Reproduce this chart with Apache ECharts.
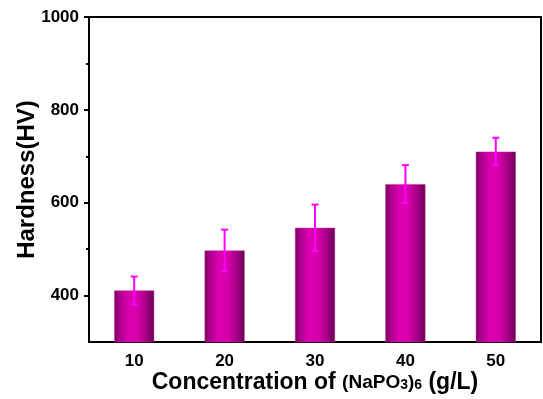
<!DOCTYPE html>
<html>
<head>
<meta charset="utf-8">
<script src="https://cdn.jsdelivr.net/npm/echarts@6/dist/echarts.min.js"></script>
<style>
  html, body { margin: 0; padding: 0; background: #fff; }
  #chart { width: 543px; height: 399px; }
</style>
</head>
<body>
<div id="chart"></div>
<script>
// data
const categories = ['10', '20', '30', '40', '50']
const hardness = [411, 497, 546, 640, 710]
const errors = [30, 45, 50, 41, 30]
const majorTicks = [400, 600, 800, 1000]
const minorTicks = [500, 700, 900]

const font = '"Liberation Sans", Arial, sans-serif'

const chart = echarts.init(document.getElementById('chart'))

const barColor = new echarts.graphic.LinearGradient(0, 0, 1, 0, [
  { offset: 0, color: '#76005c' },
  { offset: 0.12, color: '#a8008a' },
  { offset: 0.35, color: '#dc00b0' },
  { offset: 0.6, color: '#d400a8' },
  { offset: 0.85, color: '#98007c' },
  { offset: 1, color: '#66004e' }
])

const errData = hardness.map((v, i) => [i, v - errors[i], v + errors[i]])

chart.setOption({
  animation: false,
  backgroundColor: '#fff',
  grid: {
    left: 89, right: 2, top: 17, bottom: 57,
    outerBoundsMode: 'none',
    show: true, borderColor: '#000', borderWidth: 2, backgroundColor: 'transparent'
  },
  xAxis: [
    {
      type: 'category',
      data: categories,
      name: '{a|Concentration of }{b|(NaPO}{s|3}{b|)}{s|6}{a| (g/L)}',
      nameLocation: 'middle',
      nameGap: 29,
      nameMoveOverlap: false,
      nameTextStyle: {
        rich: {
          a: { fontFamily: font, fontWeight: 'bold', fontSize: 23, color: '#000' },
          b: { fontFamily: font, fontWeight: 'bold', fontSize: 19, color: '#000' },
          s: { fontFamily: font, fontWeight: 'bold', fontSize: 14, color: '#000', padding: [6, 0, 0, 0] }
        }
      },
      axisLine: { lineStyle: { color: '#000', width: 2 } },
      axisTick: { alignWithLabel: true, length: 5, lineStyle: { color: '#000', width: 2 } },
      axisLabel: { fontFamily: font, fontWeight: 'bold', fontSize: 17, color: '#000', margin: 11 },
      splitLine: { show: false }
    },
    {
      type: 'category',
      data: categories,
      position: 'bottom',
      axisLine: { show: false },
      axisTick: { length: 3, lineStyle: { color: '#000', width: 2 } },
      axisLabel: { show: false },
      splitLine: { show: false }
    }
  ],
  yAxis: [
    {
      type: 'value',
      min: 300,
      max: 1000,
      interval: 100,
      name: 'Hardness(HV)',
      nameLocation: 'middle',
      nameGap: 50,
      nameMoveOverlap: false,
      nameTextStyle: { fontFamily: font, fontWeight: 'bold', fontSize: 24, color: '#000' },
      axisLine: { show: true, lineStyle: { color: '#000', width: 2 } },
      axisTick: { show: true, customValues: majorTicks, length: 5, lineStyle: { color: '#000', width: 2 } },
      axisLabel: {
        customValues: majorTicks,
        formatter: (v) => String(v),
        fontFamily: font, fontWeight: 'bold', fontSize: 17, color: '#000', margin: 10
      },
      splitLine: { show: false }
    },
    {
      type: 'value',
      position: 'left',
      min: 300,
      max: 1000,
      interval: 100,
      axisLine: { show: false },
      axisTick: { show: true, customValues: minorTicks, length: 3, lineStyle: { color: '#000', width: 2 } },
      axisLabel: { show: false },
      splitLine: { show: false }
    }
  ],
  series: [
    {
      type: 'bar',
      data: hardness,
      barWidth: 40,
      itemStyle: { color: barColor, borderColor: '#c0309a', borderWidth: 0.5 }
    },
    {
      type: 'custom',
      data: errData,
      z: 10,
      renderItem: (params, api) => {
        const x = api.value(0)
        const lo = api.coord([x, api.value(1)])
        const hi = api.coord([x, api.value(2)])
        const cap = 3.5
        const style = { stroke: '#ff00ff', lineWidth: 2 }
        return {
          type: 'group',
          children: [
            { type: 'line', shape: { x1: hi[0], y1: hi[1], x2: lo[0], y2: lo[1] }, style },
            { type: 'line', shape: { x1: hi[0] - cap, y1: hi[1], x2: hi[0] + cap, y2: hi[1] }, style },
            { type: 'line', shape: { x1: lo[0] - cap, y1: lo[1], x2: lo[0] + cap, y2: lo[1] }, style }
          ]
        }
      }
    }
  ]
})
</script>
</body>
</html>
